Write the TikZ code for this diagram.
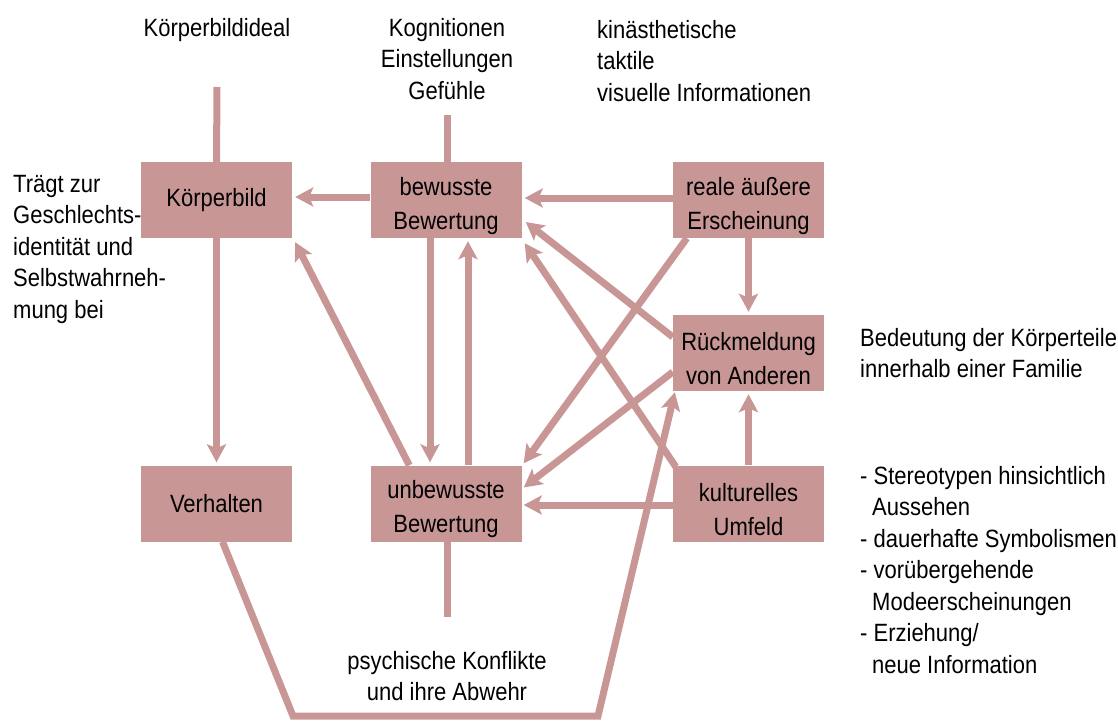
\documentclass[tikz,border=0pt]{standalone}
\usepackage{fontspec}
\setmainfont[FakeStretch=0.88]{Liberation Sans}
\usetikzlibrary{arrows.meta,calc}
\definecolor{rose}{RGB}{201,150,150}
\tikzset{
  box/.style={fill=rose,draw=none,minimum width=151pt,minimum height=76pt,inner sep=0pt,align=center,font=\fontsize{25}{34}\selectfont},
  twoline/.style={box,text height=64pt},
  lbl/.style={inner sep=0pt,font=\fontsize{25}{31.5}\selectfont},
  conn/.style={draw=rose,line width=7pt},
  arr/.style={conn,-{Stealth[length=18pt,width=19pt,inset=4pt]}},
}
\begin{document}
\begin{tikzpicture}[x=1pt,y=-1pt]
\useasboundingbox (0,0) rectangle (1118,720);
% boxes
\node[box] (kb)  at (216.5,200) {Körperbild};
\node[twoline] (bew) at (446,200) {bewusste\\Bewertung};
\node[twoline] (rea) at (748.5,200) {reale äußere\\Erscheinung};
\node[twoline] (rue) at (748.5,353) {Rückmeldung\\von Anderen};
\node[box] (ver) at (216.5,503.5) {Verhalten};
\node[twoline] (unb) at (446,503.5) {unbewusste\\Bewertung};
\node[twoline] (kul) at (748.5,503.5) {kulturelles\\Umfeld};
% labels
\node[lbl] (ideal) at (217,30) {Körperbildideal};
\node[lbl,align=center] (kog) at (447,59) {Kognitionen\\Einstellungen\\Gefühle};
\node[lbl,align=left,anchor=west] (kin) at (597,61) {kinästhetische\\taktile\\visuelle Informationen};
\node[lbl,align=left,anchor=west] (trag) at (13,249) {Trägt zur\\Geschlechts-\\identität und\\Selbstwahrneh-\\mung bei};
\node[lbl,align=left,anchor=west] (bed) at (860,353) {Bedeutung der Körperteile\\innerhalb einer Familie};
\node[lbl,align=left,anchor=west] (list) at (860,570) {- Stereotypen hinsichtlich\\\hspace*{12pt}Aussehen\\- dauerhafte Symbolismen\\- vorübergehende\\\hspace*{12pt}Modeerscheinungen\\- Erziehung/\\\hspace*{12pt}neue Information};
\node[lbl,align=center] (psy) at (447,676) {psychische Konflikte\\und ihre Abwehr};
% free ends
\coordinate (kbtop) at (217,87);
\coordinate (bewtop) at (447,115);
\coordinate (unbbot) at (447,617);
\coordinate (lp1) at (293,716);
\coordinate (lp2) at (598,716);
% plain lines
\draw[conn] (kbtop) -- (kb.north);
\draw[conn] (bewtop) -- ([xshift=1pt]bew.north);
\draw[conn] ([xshift=1pt]unb.south) -- (unbbot);
% arrows
\draw[arr] ([yshift=3pt]bew.west) -- ([xshift=3pt,yshift=3pt]kb.east);
\draw[arr] ([yshift=2pt]rea.west) -- ([xshift=3pt,yshift=2pt]bew.east);
\draw[arr] ([yshift=16pt]rue.west) -- ([xshift=4pt,yshift=-22pt]bew.east);
\draw[arr] ([xshift=3pt,yshift=-1.5pt]kul.north west) -- ([xshift=3pt,yshift=-5pt]bew.south east);
\draw[arr] ([xshift=14pt]rea.south west) -- ([xshift=2pt,yshift=2pt]unb.north east);
\draw[arr] ([yshift=-19pt]rue.west) -- ([xshift=2pt,yshift=16pt]unb.east);
\draw[arr] ([yshift=-1.5pt]kul.west) -- ([xshift=2pt,yshift=-1.5pt]unb.east);
\draw[arr] ([xshift=39pt]unb.north west) -- ([xshift=3pt,yshift=-4pt]kb.south east);
\draw[arr] ([xshift=-16pt]bew.south) -- ([xshift=-16pt,yshift=3pt]unb.north);
\draw[arr] ([xshift=22pt]unb.north) -- ([xshift=22pt,yshift=-3pt]bew.south);
\draw[arr] (rea.south) -- ([yshift=3pt]rue.north);
\draw[arr] (kul.north) -- ([yshift=-3pt]rue.south);
\draw[arr] (kb.south) -- ([yshift=3pt]ver.north);
\draw[arr,line join=miter] ([xshift=6pt]ver.south) -- (lp1) -- (lp2) -- ([xshift=2pt,yshift=-1pt]rue.south west);
\end{tikzpicture}
\end{document}
